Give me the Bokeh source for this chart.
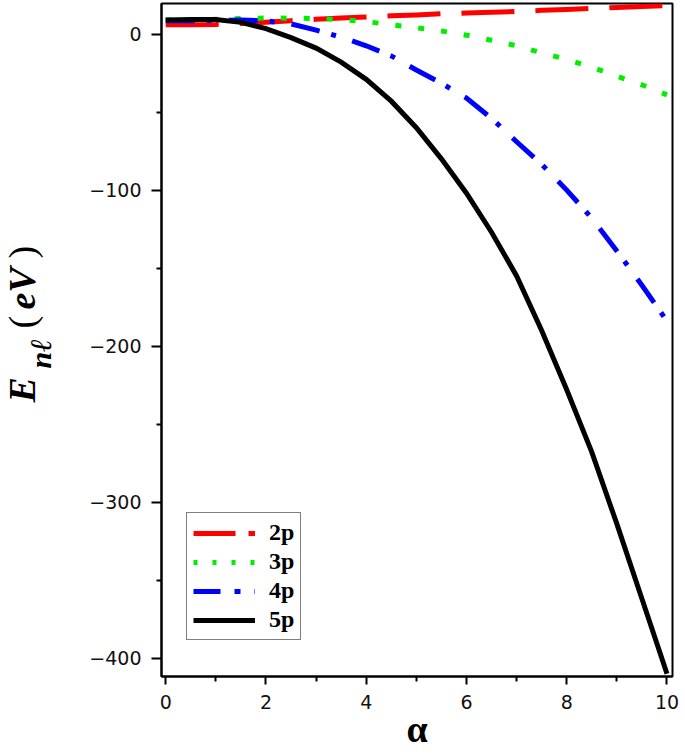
import math
from bokeh.plotting import figure
from bokeh.layouts import row
from bokeh.models import Range1d, FixedTicker, Label, Legend, LegendItem
from bokeh.embed import file_html
from bokeh.resources import INLINE

# ---- data ----
alpha = [0, 0.5, 1, 1.5, 2, 2.5, 3, 3.5, 4, 4.5, 5, 5.5, 6, 6.5, 7, 7.5, 8, 8.5, 9, 9.5, 10]
e_2p = [6.0, 6.0, 6.2, 6.8, 7.6, 8.6, 9.5, 10.3, 11.0, 11.7, 12.3, 13.0, 13.5, 14.0, 14.5, 15.2, 15.8, 16.5, 17.0, 17.7, 18.3]
e_3p = [9.0, 9.0, 9.5, 10.0, 10.3, 10.2, 10.0, 9.3, 8.0, 6.0, 4.0, 2.0, -0.7, -4.0, -7.5, -12.0, -16.3, -21.3, -27.0, -32.5, -39.0]
e_4p = [8.5, 8.5, 8.7, 9.0, 8.5, 6.5, 2.5, -2.0, -7.5, -14.0, -23.0, -31.5, -41.0, -54.0, -69.0, -83.5, -100.0, -118.0, -139.0, -161.0, -184.0]
e_5p = [9.0, 9.3, 9.3, 7.5, 3.5, -2.3, -9.0, -18.0, -29.0, -43.0, -60.0, -80.0, -102.0, -127.0, -155.0, -190.0, -228.0, -268.0, -314.0, -362.0, -410.0]

series_names = ["2p", "3p", "4p", "5p"]
series_colors = ["#ff0000", "#00ee00", "#0000ff", "#000000"]
plot_dashes = ["53 21", "6 17", "29 12 5 17", "solid"]
legend_dashes = ["42 13 8 13", "4 15", "27 14 6 14", "solid"]

x_ticks = [0, 2, 4, 6, 8, 10]
x_minor = [1, 3, 5, 7, 9]
y_ticks = [-400, -300, -200, -100, 0]
y_minor = [-350, -250, -150, -50]

y_title_parts = ["E", "nℓ", "(", "eV", ")"]
x_title = "α"

TOTAL_H = 755
LEFT_W = 64
MAIN_W = 685 - LEFT_W
B_TOP = 3
B_BOTTOM = 79

# ---------------- main plot ----------------
p = figure(width=MAIN_W, height=TOTAL_H,
           x_range=Range1d(-0.084, 10.11), y_range=Range1d(-411.8, 19.6),
           output_backend="svg", toolbar_location=None,
           min_border_left=161 - LEFT_W, min_border_right=13,
           min_border_top=B_TOP, min_border_bottom=B_BOTTOM)
p.grid.visible = False
p.outline_line_color = "black"
p.outline_line_width = 2
p.outline_line_alpha = 1.0
p.background_fill_color = "white"
p.border_fill_color = "white"

p.xaxis.ticker = FixedTicker(ticks=x_ticks, minor_ticks=x_minor)
p.yaxis.ticker = FixedTicker(ticks=y_ticks, minor_ticks=y_minor)
for ax in (p.xaxis, p.yaxis):
    ax.axis_line_width = 2
    ax.axis_line_color = "black"
    ax.major_tick_line_width = 2
    ax.minor_tick_line_width = 2
    ax.major_tick_line_color = "black"
    ax.minor_tick_line_color = "black"
    ax.major_tick_in = 0
    ax.minor_tick_in = 0
    ax.minor_tick_out = 5
    ax.major_label_text_font = "DejaVu Sans"
    ax.major_label_text_font_size = "19px"
    ax.major_label_text_color = "#111111"
p.xaxis.major_tick_out = 8
p.yaxis.major_tick_out = 10
p.xaxis.major_label_standoff = 10
p.yaxis.major_label_standoff = 10

p.xaxis.axis_label = x_title
p.xaxis.axis_label_text_font = "Liberation Serif"
p.xaxis.axis_label_text_font_style = "bold"
p.xaxis.axis_label_text_font_size = "38px"
p.xaxis.axis_label_text_color = "black"
p.xaxis.axis_label_standoff = -4

series = [e_2p, e_3p, e_4p, e_5p]
items = []
for name, ys, col, pd, ld in zip(series_names, series, series_colors, plot_dashes, legend_dashes):
    p.line(alpha, ys, line_color=col, line_width=5, line_dash=pd, line_cap="butt", line_join="miter")
    dummy = p.line([math.nan], [math.nan], line_color=col, line_width=5, line_dash=ld, line_cap="butt")
    items.append(LegendItem(label=name, renderers=[dummy]))

legend = Legend(items=items, location=(25, 36))
legend.border_line_color = "black"
legend.border_line_width = 1.5
legend.background_fill_color = "white"
legend.background_fill_alpha = 1.0
legend.label_text_font = "Liberation Serif"
legend.label_text_font_style = "bold"
legend.label_text_font_size = "24px"
legend.label_text_color = "black"
legend.glyph_width = 62
legend.glyph_height = 20
legend.label_height = 20
legend.label_standoff = 14
legend.spacing = 2
legend.padding = 6
legend.margin = 0
p.add_layout(legend, "center")

# ---------------- y-axis title panel ----------------
# its frame uses the same top/bottom borders as the main plot; data units = page pixels
yfig = figure(width=LEFT_W, height=TOTAL_H,
              x_range=Range1d(0, LEFT_W), y_range=Range1d(B_BOTTOM, TOTAL_H - B_TOP),
              output_backend="svg", toolbar_location=None,
              x_axis_location=None, y_axis_location=None,
              min_border_left=0, min_border_right=0,
              min_border_top=B_TOP, min_border_bottom=B_BOTTOM)
yfig.grid.visible = False
yfig.outline_line_color = None
yfig.background_fill_color = "white"
yfig.border_fill_color = "white"
rot = math.pi / 2
# (text-box centre x, start y measured from page top), font size, style
y_title_layout = [(21.5, 402, "38px", "bold italic"),
                  (40.0, 368, "30px", "bold italic"),
                  (21.5, 328, "38px", "normal"),
                  (21.5, 309, "38px", "bold italic"),
                  (21.5, 258, "38px", "normal")]
for txt, (cx, sy, fs, st) in zip(y_title_parts, y_title_layout):
    yfig.add_layout(Label(x=cx, y=TOTAL_H - sy, text=txt, angle=rot,
                          text_font="Liberation Serif", text_font_style=st,
                          text_font_size=fs, text_baseline="middle", text_align="left",
                          text_color="black"))

layout = row(yfig, p, spacing=0)
open("out.html", "w").write(file_html(layout, INLINE))
